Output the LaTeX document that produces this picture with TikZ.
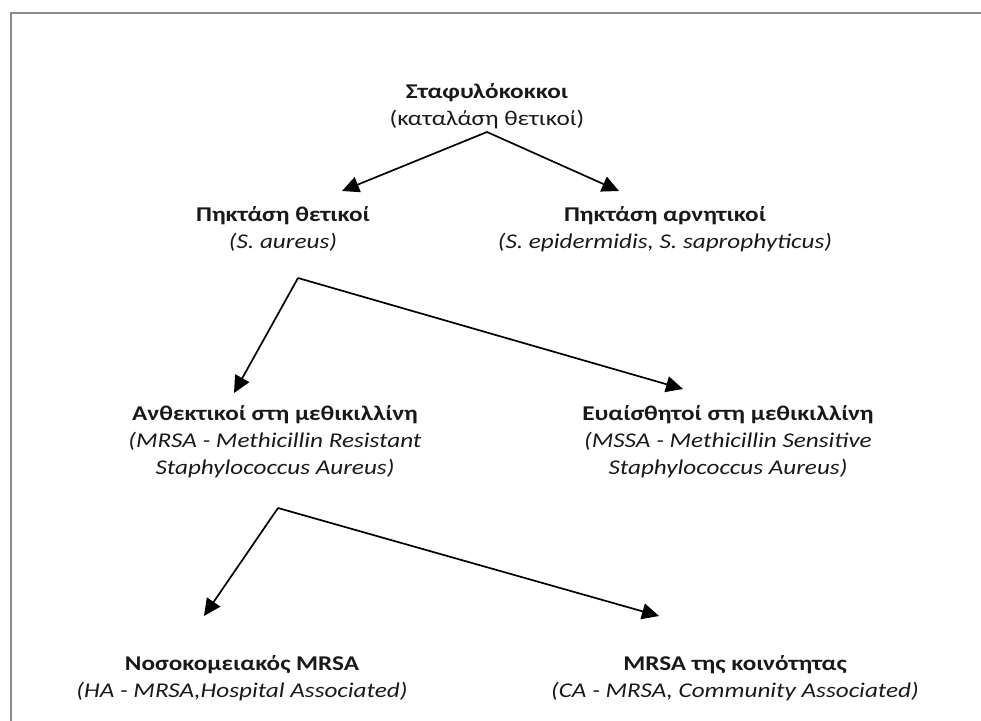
\documentclass[tikz,border=0pt]{standalone}
\usepackage{fontspec}
\setmainfont[FakeStretch=1.2]{Carlito}
\usetikzlibrary{arrows.meta}
\begin{document}
\begin{tikzpicture}[x=1pt,y=-1pt,
  lbl/.style={align=center,inner sep=0pt,text=black!90,font=\fontsize{21}{27}\selectfont},
  conn/.style={line width=1.7pt,-{Triangle[length=17pt,width=16pt]}},
  frame/.style={draw=black!45,line width=2.5pt}]
\useasboundingbox (0,0) rectangle (981,720);
\draw[frame] (11,722) -- (11,13) -- (983,13);
% nodes
\node[lbl] (a) at (487,106) {\textbf{Σταφυλόκοκκοι}\\(καταλάση θετικοί)};
\node[lbl] (b) at (283,229) {\textbf{Πηκτάση θετικοί}\\\textit{(S. aureus)}};
\node[lbl] (c) at (665,229) {\textbf{Πηκτάση αρνητικοί}\\\textit{(S. epidermidis, S. saprophyticus)}};
\node[lbl] (d) at (275,442) {\textbf{Ανθεκτικοί στη μεθικιλλίνη}\\\textit{(MRSA - Methicillin Resistant}\\\textit{Staphylococcus Aureus)}};
\node[lbl] (e) at (728,442) {\textbf{Ευαίσθητοί στη μεθικιλλίνη}\\\textit{(MSSA - Methicillin Sensitive}\\\textit{Staphylococcus Aureus)}};
\node[lbl] (f) at (242,678) {\textbf{Νοσοκομειακός MRSA}\\\textit{(HA - MRSA,Hospital Associated)}};
\node[lbl] (g) at (735,678) {\textbf{MRSA της κοινότητας}\\\textit{(CA - MRSA, Community Associated)}};
% connector points
\coordinate (p1) at (487,132);
\coordinate (t1) at (342,191);
\coordinate (t2) at (619,191);
\coordinate (p2) at (298,278);
\coordinate (t3) at (234,393);
\coordinate (t4) at (683,389);
\coordinate (p3) at (278,508);
\coordinate (t5) at (204,616);
\coordinate (t6) at (659,616);
\draw[conn] (p1) -- (t1);
\draw[conn] (p1) -- (t2);
\draw[conn] (p2) -- (t3);
\draw[conn] (p2) -- (t4);
\draw[conn] (p3) -- (t5);
\draw[conn] (p3) -- (t6);
\end{tikzpicture}
\end{document}
